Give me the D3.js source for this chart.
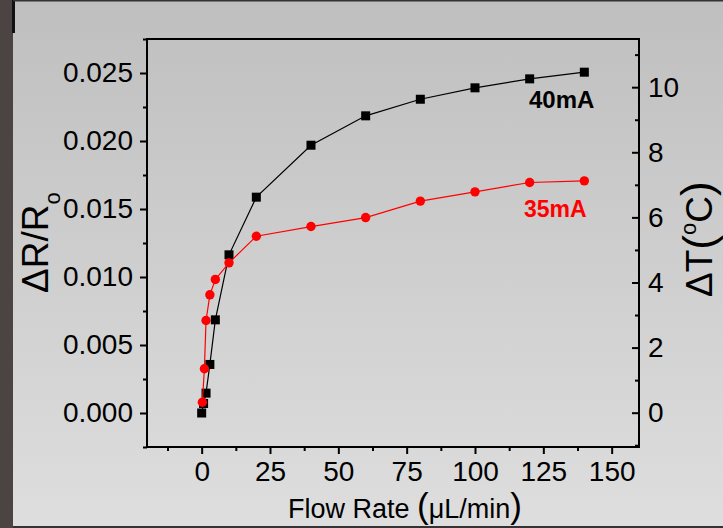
<!DOCTYPE html>
<html><head><meta charset="utf-8">
<script src="https://cdn.jsdelivr.net/npm/d3@7"></script>
<style>body{margin:0;background:#c8c8c8;} svg{display:block;font-family:"Liberation Sans",Arial,sans-serif;}</style>
</head><body><svg id="c" width="723" height="528"></svg>
<script>
// ---- data ----
const flow40 = [0, 0.7, 1.6, 3, 5, 10, 20, 40, 60, 80, 100, 120, 140];
const dR40   = [0, 0.0007, 0.00146, 0.00357, 0.00685, 0.01163, 0.01587, 0.01969, 0.02185, 0.02307, 0.02391, 0.02457, 0.02506];
const flow35 = [0.25, 1, 1.6, 3, 5, 10, 20, 40, 60, 80, 100, 120, 140];
const dR35   = [0.00079, 0.00325, 0.0068, 0.00869, 0.00982, 0.01104, 0.0130, 0.01371, 0.01437, 0.01558, 0.01626, 0.01695, 0.01707];
const xTicks = [0, 25, 50, 75, 100, 125, 150];
const yLeftTicks = [0, 0.005, 0.010, 0.015, 0.020, 0.025];
const yRightTicks = [0, 2, 4, 6, 8, 10];
const seriesLabels = ["40mA", "35mA"];

const W = 723, H = 528;
const L = 147, R = 639, T = 39, B = 447;
const svg = d3.select("#c");

// background
const defs = svg.append("defs");
const g0 = defs.append("linearGradient").attr("id","bg").attr("x1",0).attr("y1",0).attr("x2",0).attr("y2",1);
g0.append("stop").attr("offset","0%").attr("stop-color","#bfbfbf");
g0.append("stop").attr("offset","100%").attr("stop-color","#dedede");
svg.append("rect").attr("width",W).attr("height",H).attr("fill","url(#bg)");
svg.append("rect").attr("x",0).attr("y",0).attr("width",13).attr("height",H).attr("fill","#4b4442");
svg.append("rect").attr("x",12).attr("y",0).attr("width",3).attr("height",33).attr("fill","#111");
svg.append("rect").attr("x",13).attr("y",0).attr("width",W).attr("height",1.5).attr("fill","#333");
svg.append("rect").attr("x",13).attr("y",H-2).attr("width",W).attr("height",2).attr("fill","#333");

// scales
const x = d3.scaleLinear().domain([-20, 160]).range([L, R]);
const yL = d3.scaleLinear().domain([-0.0025, 0.0275]).range([B, T]);
const yR = d3.scaleLinear().domain([-1.054, 11.48]).range([B, T]);

const fs = 28;
// bottom axis
const xMinor = d3.range(-12.5, 160, 25);
const gx = svg.append("g").attr("transform",`translate(0,${B})`);
gx.call(d3.axisBottom(x).tickValues(xMinor).tickSize(4).tickFormat(""));
gx.call(g=>g.select(".domain").remove());
const gx2 = svg.append("g").attr("transform",`translate(0,${B})`);
gx2.call(d3.axisBottom(x).tickValues(xTicks).tickSize(7).tickPadding(7).tickFormat(d3.format("d")));
gx2.select(".domain").remove();
// left axis
const yMinor = d3.range(-0.0025, 0.0276, 0.005);
const gy = svg.append("g").attr("transform",`translate(${L},0)`);
gy.call(d3.axisLeft(yL).tickValues(yMinor).tickSize(4).tickFormat(""));
gy.select(".domain").remove();
const gy2 = svg.append("g").attr("transform",`translate(${L},0)`);
gy2.call(d3.axisLeft(yL).tickValues(yLeftTicks).tickSize(7).tickPadding(7).tickFormat(d3.format(".3f")));
gy2.select(".domain").remove();
// right axis (ticks inward)
const rMinor = [-1, 1, 3, 5, 7, 9, 11];
const gr = svg.append("g").attr("transform",`translate(${R},0)`);
gr.call(d3.axisLeft(yR).tickValues(rMinor).tickSize(4).tickFormat(""));
gr.select(".domain").remove();
const gr2 = svg.append("g").attr("transform",`translate(${R},0)`);
gr2.call(d3.axisLeft(yR).tickValues(yRightTicks).tickSize(7).tickFormat(d3.format("d")));
gr2.select(".domain").remove();
gr2.selectAll(".tick text").attr("x", 9).attr("text-anchor","start");

svg.selectAll(".tick line").attr("stroke","#000").attr("stroke-width",2);
svg.selectAll(".tick text").attr("fill","#000").style("font-size",fs+"px").style("font-family",'"Liberation Sans",Arial,sans-serif');
gx2.selectAll(".tick text").attr("dy","0.71em");

// frame
svg.append("rect").attr("x",L).attr("y",T).attr("width",R-L).attr("height",B-T)
  .attr("fill","none").attr("stroke","#000").attr("stroke-width",2);

// data
const d40 = flow40.map((f,i)=>[f, dR40[i]]);
const d35 = flow35.map((f,i)=>[f, dR35[i]]);
const line = d3.line().x(d=>x(d[0])).y(d=>yL(d[1]));
svg.append("path").datum(d40).attr("d",line).attr("fill","none").attr("stroke","#000").attr("stroke-width",1.2);
svg.selectAll("rect.sq").data(d40).enter().append("rect").attr("class","sq")
  .attr("x",d=>x(d[0])-4.5).attr("y",d=>yL(d[1])-4.5).attr("width",9).attr("height",9).attr("fill","#000");
svg.append("path").datum(d35).attr("d",line).attr("fill","none").attr("stroke","#ff0000").attr("stroke-width",1.2);
svg.selectAll("circle.ci").data(d35).enter().append("circle").attr("class","ci")
  .attr("cx",d=>x(d[0])).attr("cy",d=>yL(d[1])).attr("r",4.7).attr("fill","#ff0000");

// series labels
svg.append("text").attr("x",529).attr("y",108).attr("font-weight","bold").style("font-size","24px").attr("fill","#000").text(seriesLabels[0]);
svg.append("text").attr("x",524).attr("y",216.5).attr("font-weight","bold").style("font-size","23px").attr("fill","#ff0000").text(seriesLabels[1]);

// x title
const xt = svg.append("text").attr("x",288).attr("y",518).style("font-size","27px").attr("fill","#000");
xt.append("tspan").text("Flow Rate ");
xt.append("tspan").style("font-size","35px").text("(");
xt.append("tspan").text("μL/min");
xt.append("tspan").style("font-size","35px").text(")");

// left title
const lt = svg.append("text").attr("transform","translate(48,293) rotate(-90)").style("font-size","37px").attr("fill","#000");
lt.append("tspan").text("ΔR/R");
lt.append("tspan").style("font-size","22px").attr("dy",12).text("o");

// right title
const rt = svg.append("text").attr("transform","translate(712,297) rotate(-90)").style("font-size","37px").attr("fill","#000");
rt.append("tspan").text("ΔT");
rt.append("tspan").style("font-size","44px").attr("dy",2).text("(");
rt.append("tspan").style("font-size","22px").attr("dy",-18).text("o");
rt.append("tspan").attr("dy",16).text("C");
rt.append("tspan").style("font-size","44px").text(")");
</script></body></html>
